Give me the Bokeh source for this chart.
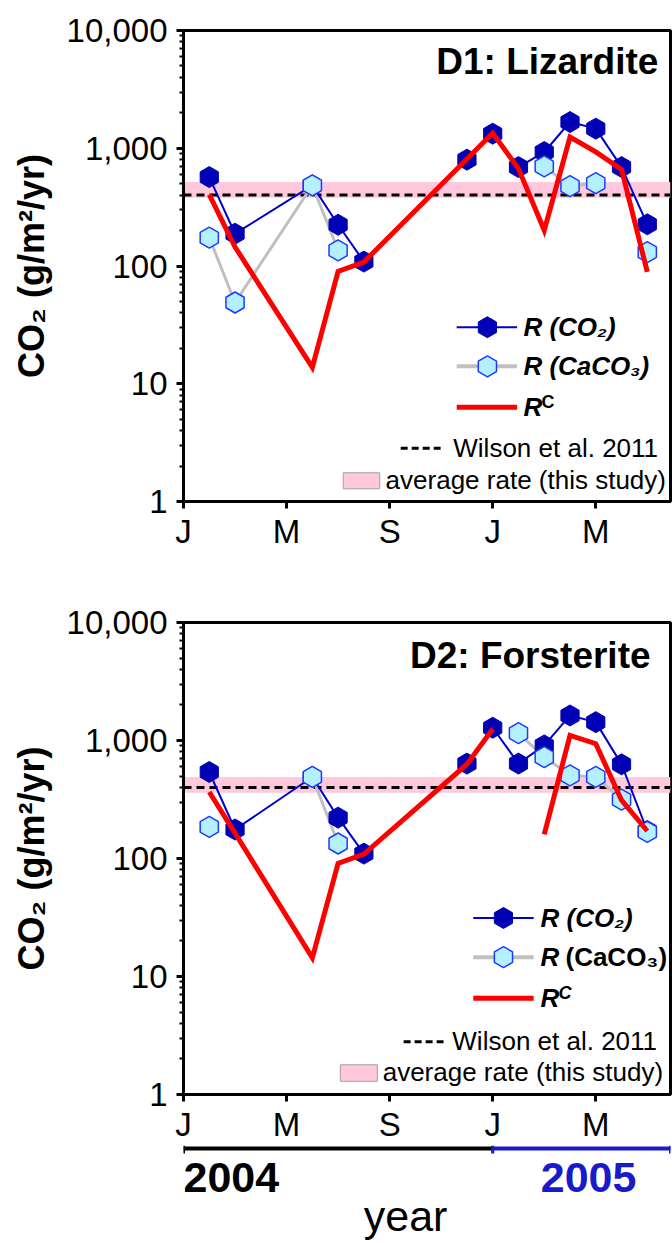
import math
from bokeh.plotting import figure
from bokeh.layouts import column
from bokeh.models import Range1d, FixedTicker, NumeralTickFormatter, Label, BoxAnnotation, Span
from bokeh.embed import file_html
from bokeh.resources import INLINE

nan = float("nan")

# sampling months, counted from January 2004 (1 = Feb 2004 ... 18 = Jul 2005)
months = [1, 2, 5, 6, 7, 11, 12, 13, 14, 15, 16, 17, 18]

# D1: Lizardite
d1_co2 = [569, 188, 484, 224, 109, 800, 1330, 692, 929, 1670, 1467, 692, 226]
d1_caco3 = [174, 49, 484, 136, nan, nan, nan, nan, 702, 477, 506, nan, 131]
d1_rc = [403, 145, 13.8, 90, 108, 810, 1346, 671, 201, 1245, 930, 660, 89]

# D2: Forsterite
d2_co2 = [541, 176, 491, 222, 110, 637, 1282, 637, 909, 1630, 1431, 628, 171]
d2_caco3 = [185, nan, 491, 134, nan, nan, nan, 1155, 724, 507, 491, 316, 168]
d2_rc = [366, 164, 14.4, 91, 109, 630, 1250, nan, 160, 1104, 939, 312, 171]

wilson_rate = 400
d1_avg_band = [380, 516]
d2_avg_band = [360, 491]

x_ticks = [0, 4, 8, 12, 16]
x_tick_labels = ["J", "M", "S", "J", "M"]
y_ticks = [1, 10, 100, 1000, 10000]
years = ["2004", "2005"]
year_start = [0, 12]
year_end = [12, 18.9]

X_END = 18.9
W = 672
BL, BR = 183, 2
FW = W - BL - BR
PX_PER_MONTH = FW / X_END
SHIFT = 0.37  # baseline correction (fraction of font size)

FONT = "Liberation Sans"
DARK = "#0000b4"
BLUE_LINE = "#0000cc"
LIGHT_FILL = "#b4f0ff"
LIGHT_LINE = "#1a3cff"
GRAY = "#c0c0c0"
RED = "#ff0000"
PINK = "#ffc8dc"
YEAR_BLUE = "#1a1acd"


def fx(f):
    return f * X_END


def fy(f):
    return 10 ** (4 * f)


def runs(xs, ys, max_gap):
    out_x, out_y, cx, cy = [], [], [], []
    prev = None
    for x, y in zip(xs, ys):
        if y is None or math.isnan(y):
            if len(cx) > 1:
                out_x.append(cx); out_y.append(cy)
            cx, cy, prev = [], [], None
            continue
        if prev is not None and x - prev > max_gap:
            if len(cx) > 1:
                out_x.append(cx); out_y.append(cy)
            cx, cy = [], []
        cx.append(x); cy.append(y)
        prev = x
    if len(cx) > 1:
        out_x.append(cx); out_y.append(cy)
    return out_x, out_y


def hexes(p, xs, ys, dark, size=21):
    if dark:
        p.scatter(xs, ys, marker="hex", size=size, angle=math.pi / 2,
                  fill_color=DARK, line_color=DARK, line_width=1)
    else:
        p.scatter(xs, ys, marker="hex", size=size, angle=math.pi / 2,
                  fill_color=LIGHT_FILL, line_color=LIGHT_LINE, line_width=1.5)


def label(p, x, y, text, size, style="normal", align="left", color="black"):
    p.add_layout(Label(x=x, y=y, text=text, text_font=FONT, text_font_size="%dpx" % size,
                       text_font_style=style, text_align=align, text_baseline="alphabetic",
                       text_color=color))


def plabel(p, fh, xf, base_frac, text, size, style="normal", align="left", dx_px=0):
    """label in a log panel; base_frac = intended baseline as fraction of frame from bottom"""
    label(p, fx(xf) + dx_px / PX_PER_MONTH, fy(base_frac + SHIFT * size / fh),
          text, size, style, align)


def make_panel(title, co2, caco3, rc, band, leg, height, top, bottom, fh):
    p = figure(width=W, height=height, y_axis_type="log",
               x_range=Range1d(0, X_END), y_range=Range1d(1, 10000),
               output_backend="svg", toolbar_location=None,
               min_border_left=BL, min_border_right=BR,
               min_border_top=top, min_border_bottom=bottom)
    p.xgrid.visible = False
    p.ygrid.visible = False
    p.outline_line_color = "black"
    p.outline_line_width = 3
    p.background_fill_color = "white"

    ya = p.yaxis[0]
    ya.ticker = FixedTicker(ticks=y_ticks,
                            minor_ticks=[k * 10 ** n for n in range(4) for k in range(2, 10)])
    ya.formatter = NumeralTickFormatter(format="0,0")
    ya.major_label_text_font = FONT
    ya.major_label_text_font_size = "33px"
    ya.major_label_text_color = "black"
    ya.major_label_standoff = 9
    ya.axis_line_width = 3
    ya.major_tick_out = 7
    ya.major_tick_in = 0
    ya.major_tick_line_width = 3
    ya.minor_tick_out = 4
    ya.minor_tick_in = 0
    ya.minor_tick_line_width = 2
    ya.axis_label = "CO\u2082 (g/m\u00b2/yr)"
    ya.axis_label_text_font = FONT
    ya.axis_label_text_font_style = "bold"
    ya.axis_label_text_font_size = "36px"
    ya.axis_label_text_color = "black"
    ya.axis_label_standoff = 12

    xa = p.xaxis[0]
    xa.ticker = FixedTicker(ticks=x_ticks, minor_ticks=[])
    xa.major_label_overrides = {t: l for t, l in zip(x_ticks, x_tick_labels)}
    xa.major_label_text_font = FONT
    xa.major_label_text_font_size = "33px"
    xa.major_label_text_color = "black"
    xa.major_label_standoff = 4
    xa.axis_line_width = 3
    xa.major_tick_out = 7
    xa.major_tick_in = 0
    xa.major_tick_line_width = 3

    p.add_layout(BoxAnnotation(bottom=band[0], top=band[1], fill_color=PINK,
                               fill_alpha=1, line_color=None, level="underlay"))
    p.add_layout(Span(location=wilson_rate, dimension="width", line_color="black",
                      line_width=3, line_dash="8 5", level="underlay"))

    gx, gy = runs(months, caco3, 3)
    p.multi_line(gx, gy, line_color=GRAY, line_width=3)
    bx, by = runs(months, co2, 3)
    p.multi_line(bx, by, line_color=BLUE_LINE, line_width=2)
    hexes(p, months, co2, True)
    hexes(p, months, caco3, False)
    rx, ry = runs(months, rc, 100)
    p.multi_line(rx, ry, line_color=RED, line_width=5, line_join="miter")

    # panel title
    plabel(p, fh, leg["title_x"], leg["title_y"], title, 37, "bold", "right")

    # legend
    rows = leg["rows"]
    off = 9.3 / fh
    s0, s1, mk, tx = leg["sample"]
    # R(CO2)
    p.line([fx(s0), fx(s1)], [fy(rows[0])] * 2, line_color=BLUE_LINE, line_width=2)
    hexes(p, [fx(mk)], [fy(rows[0])], True)
    plabel(p, fh, tx, rows[0] - off, "R (CO\u2082)", 26, "bold italic")
    # R(CaCO3)
    p.line([fx(s0), fx(s1)], [fy(rows[1])] * 2, line_color=GRAY, line_width=4)
    hexes(p, [fx(mk)], [fy(rows[1])], False)
    if leg["mixed"]:
        plabel(p, fh, tx, rows[1] - off, "R", 26, "bold italic")
        plabel(p, fh, tx, rows[1] - off, "(CaCO\u2083)", 26, "bold", dx_px=25)
    else:
        plabel(p, fh, tx, rows[1] - off, "R (CaCO\u2083)", 26, "bold italic")
    # R^C
    p.line([fx(s0), fx(s1)], [fy(rows[2])] * 2, line_color=RED, line_width=5)
    plabel(p, fh, tx, rows[2] - off, "R", 26, "bold italic")
    plabel(p, fh, tx, rows[2] - 1.3 / fh, "C", 18,
           "bold italic" if leg["mixed"] else "bold", dx_px=18)
    # Wilson
    w0, w1, wt = leg["wilson"]
    p.line([fx(w0), fx(w1)], [fy(rows[3])] * 2, line_color="black", line_width=3,
           line_dash="7 4")
    plabel(p, fh, wt, rows[3] - off, "Wilson et al. 2011", 26)
    # average rate box
    b0, b1, bb, bt, at = leg["box"]
    p.quad(left=[fx(b0)], right=[fx(b1)], bottom=[fy(bb)], top=[fy(bt)],
           fill_color=PINK, line_color="#a0a0a0", line_width=1)
    plabel(p, fh, at, rows[4] - off, "average rate (this study)", 26)
    return p


leg1 = dict(title_x=0.975, title_y=1 - 0.0945,
            rows=[0.370, 0.287, 0.200, 0.113, 0.046],
            sample=(0.561, 0.685, 0.624, 0.698),
            wilson=(0.446, 0.528, 0.554),
            box=(0.328, 0.403, 0.027, 0.061, 0.415),
            mixed=False)
leg2 = dict(title_x=0.959, title_y=1 - 0.098,
            rows=[0.374, 0.291, 0.204, 0.112, 0.047],
            sample=(0.595, 0.719, 0.657, 0.733),
            wilson=(0.452, 0.534, 0.552),
            box=(0.322, 0.398, 0.028, 0.063, 0.409),
            mixed=True)

p1 = make_panel("D1: Lizardite", d1_co2, d1_caco3, d1_rc, d1_avg_band, leg1,
                height=580, top=30, bottom=79, fh=471)
p2 = make_panel("D2: Forsterite", d2_co2, d2_caco3, d2_rc, d2_avg_band, leg2,
                height=565, top=42, bottom=50, fh=473)

# year bar
H3 = 98
p3 = figure(width=W, height=H3, x_range=Range1d(0, X_END), y_range=Range1d(0, H3),
            x_axis_type=None, y_axis_type=None, output_backend="svg",
            toolbar_location=None, min_border_left=BL, min_border_right=BR,
            min_border_top=0, min_border_bottom=0)
p3.outline_line_color = None
ybar = 95
colors = ["black", YEAR_BLUE]
p3.segment(x0=year_start, y0=[ybar] * 2, x1=year_end, y1=[ybar] * 2,
           line_color=colors, line_width=4)
p3.segment(x0=[year_start[0], year_start[1], year_end[1]], y0=[ybar - 5] * 3,
           x1=[year_start[0], year_start[1], year_end[1]], y1=[ybar + 3] * 3,
           line_color=["black", YEAR_BLUE, YEAR_BLUE], line_width=3)
label(p3, year_start[0], H3 - 48 + SHIFT * 43, years[0], 43, "bold")
label(p3, 15.72, H3 - 48 + SHIFT * 43, years[1], 43, "bold", "center", YEAR_BLUE)
label(p3, 8.62, 12 + SHIFT * 43, "year", 43, "normal", "center")

layout = column(p1, p2, p3, spacing=0)
open("out.html", "w").write(file_html(layout, INLINE))
